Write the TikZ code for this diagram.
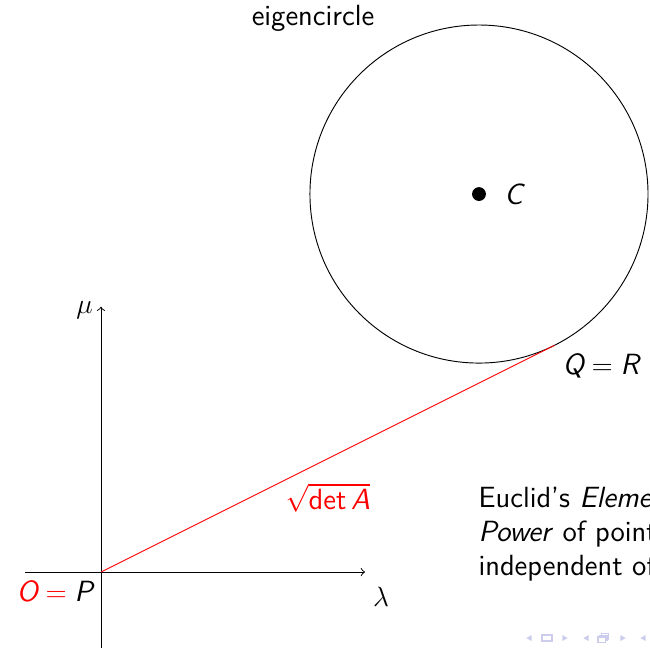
\documentclass[tikz,border=0pt]{standalone}
\usepackage{amsmath,amssymb}
\usepackage{tikz}
\usetikzlibrary{positioning}

\newcommand{\sfit}[1]{\textsf{\itshape #1}}
\definecolor{navcol}{rgb}{0.8,0.8,0.93}

\begin{document}
\begin{tikzpicture}[
    every node/.style={font=\sffamily\fontsize{12.6}{14.7}\selectfont},
    dot/.style={circle, fill, inner sep=0pt, minimum size=0.21cm},
    navtri/.style={fill=navcol},
    navbox/.style={draw=navcol, line width=0.6pt}]
  \useasboundingbox (-1.53,-1.136) rectangle (8.318,8.667);
  \clip (-1.53,-1.136) rectangle (8.318,8.667);
  % Axes: lambda right, mu up
  \coordinate (O) at (0,0);
  \coordinate (Xend) at (4.0,0);
  \coordinate (Yend) at (0,4.02);
  \draw[->] (-1.15,0) -- (Xend) node[below right, yshift=-0.1cm] (lam) {$\lambda$};
  \draw[->] (0,-1.3) -- (Yend) node[left, yshift=-0.05cm] (mu) {$\mu$};
  \node[below left] (OP) at (O) {$\textcolor{red}{\sfit{O}} \mathrel{\textcolor{red}{=}} \sfit{P}$};
  % Eigencircle with centre C, radius a/sqrt(5)
  \coordinate (C) at (5.727,5.727);
  \coordinate (Q) at (6.872,3.436);
  \draw (C) circle (2.561);
  \node[dot] (Cdot) at (C) {};
  \node[right=0.15cm of Cdot] (Clab) {$\sfit{C}$};
  \node (eiglab) at (3.212,8.394) {eigencircle};
  % Tangent from P
  \draw[red] (O) -- (Q) node[pos=0.5, below=0.25cm, red] (len) {$\sqrt{\textsf{det}\,\sfit{A}}$};
  \node[below right] (QR) at (Q) {$\sfit{Q} = \sfit{R}$};
  % Text on the right, cut at the edge
  \node[anchor=base west, inner sep=0pt] (line1) at (5.715,0.985) {Euclid's \textit{Elements}};
  \node[anchor=base west, inner sep=0pt] (line2) at (5.715,0.470) {\textit{Power} of point};
  \node[anchor=base west, inner sep=0pt] (line3) at (5.715,-0.045) {independent of};
  % Navigation symbols
  \fill[navtri] (6.525,-0.955) -- (6.525,-1.045) -- (6.445,-1.0) -- cycle;
  \draw[navbox] (6.683,-1.045) rectangle (6.833,-0.955);
  \fill[navtri] (6.99,-0.955) -- (6.99,-1.045) -- (7.07,-1.0) -- cycle;
  \fill[navtri] (7.388,-0.955) -- (7.388,-1.045) -- (7.308,-1.0) -- cycle;
  \draw[navbox] (7.531,-1.065) rectangle (7.641,-0.985);
  \draw[navbox] (7.556,-0.985) -- (7.556,-0.96) -- (7.666,-0.96) -- (7.666,-1.04) -- (7.641,-1.04);
  \draw[navbox] (7.581,-0.96) -- (7.581,-0.935) -- (7.691,-0.935) -- (7.691,-1.015) -- (7.666,-1.015);
  \fill[navtri] (7.869,-0.955) -- (7.869,-1.045) -- (7.949,-1.0) -- cycle;
  \fill[navtri] (8.252,-0.955) -- (8.252,-1.045) -- (8.172,-1.0) -- cycle;
\end{tikzpicture}
\end{document}
